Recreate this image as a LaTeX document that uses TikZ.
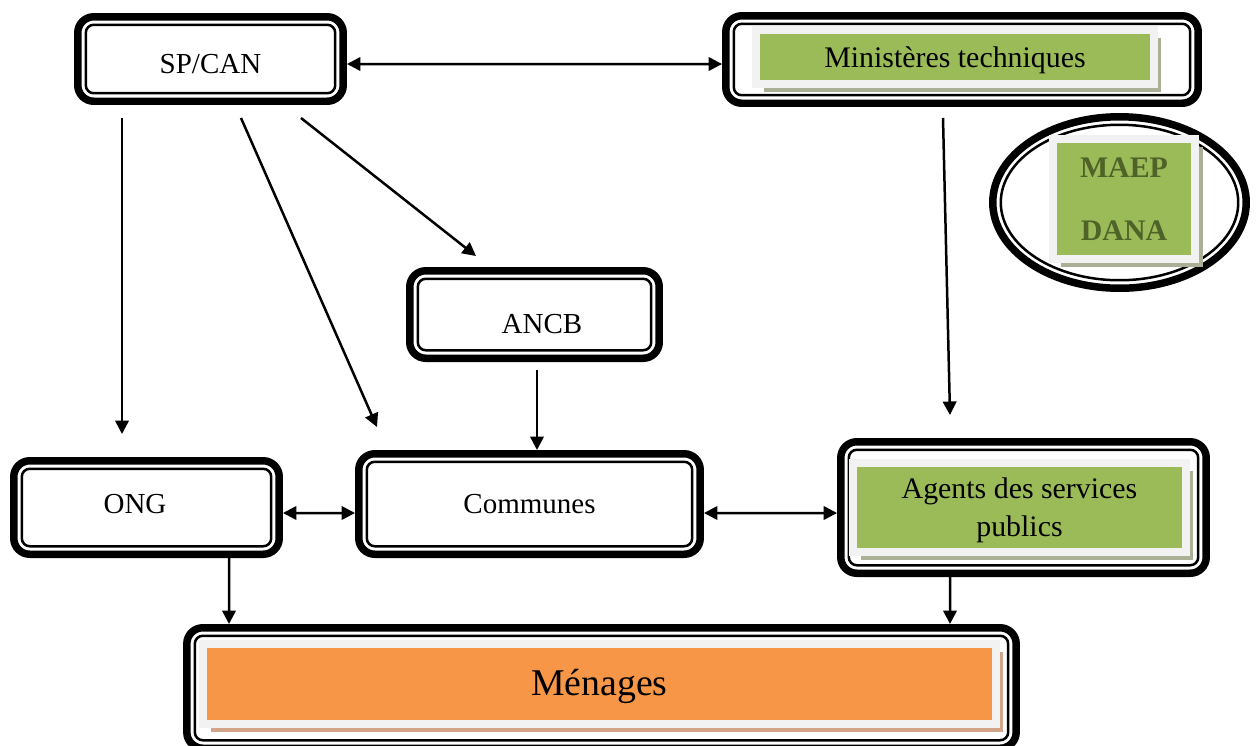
\documentclass[tikz,border=0pt]{standalone}
\usepackage{fontspec}
\setmainfont{Liberation Serif}
\usetikzlibrary{arrows.meta}
\usetikzlibrary{calc}
\usetikzlibrary{shapes.geometric}
\usetikzlibrary{shadows}

\definecolor{leafgreen}{HTML}{9BBB59}
\definecolor{leafshadow}{HTML}{A9B096}
\definecolor{panelgrey}{HTML}{F2F2F2}
\definecolor{menorange}{HTML}{F79646}
\definecolor{orangeshadow}{HTML}{D3A487}
\definecolor{maeptext}{HTML}{4F6228}

\tikzset{
  frame/.style={draw, line width=0.15cm, rounded corners=0.32cm, inner sep=0pt},
  thinframe/.style={draw, line width=0.05cm, rounded corners=0.16cm},
  panel/.style n args={2}{draw=panelgrey, line width=0.16cm, fill=#1, align=center, inner sep=0pt,
    text depth=0pt, drop shadow={shadow xshift=0.15cm, shadow yshift=-0.16cm, fill=#2, opacity=1}},
}

\begin{document}
\begin{tikzpicture}[x=0.02cm, y=-0.02cm, >={Triangle[length=0.27cm,width=0.27cm]},
    font=\fontsize{16.5}{20}\selectfont]
  \useasboundingbox (0,0) rectangle (1257,745);
  \clip (0,0) rectangle (1257,745);

  % frames
  \node[frame, minimum width=5.31cm, minimum height=1.69cm,
    label={[yshift=-0.1cm]center:SP/CAN}] (spcan) at (210.5,59) {};
  \node[frame, minimum width=9.45cm, minimum height=1.75cm] (mt) at (962,59.5) {};
  \node[frame, minimum width=4.99cm, minimum height=1.75cm,
    label={[xshift=0.15cm, yshift=-0.19cm]center:ANCB}] (ancb) at (534.5,314.5) {};
  \node[frame, minimum width=5.31cm, minimum height=1.87cm,
    label={[xshift=-0.23cm, yshift=0.07cm]center:ONG}] (ong) at (146.5,507.5) {};
  \node[frame, minimum width=6.83cm, minimum height=2.01cm] (com) at (529.5,504) {Communes};
  \node[frame, minimum width=7.31cm, minimum height=2.63cm] (asp) at (1023.5,507.5) {};
  \node[frame, minimum width=16.59cm, minimum height=2.41cm] (men) at (601.5,688) {};
  \node[draw, ellipse, line width=0.15cm, minimum width=5.07cm, minimum height=3.43cm] (maep) at (1119.5,202.5) {};

  \foreach \n in {spcan,mt,ancb,ong,com,asp,men}
    \draw[thinframe] ([shift={(11.75,11.75)}]\n.north west) rectangle ([shift={(-11.75,-11.75)}]\n.south east);
  \draw[line width=0.05cm] (maep.center) ellipse [x radius=2.375cm, y radius=1.555cm];

  % coloured panels
  \node[panel={leafgreen}{leafshadow}, minimum width=7.96cm, minimum height=1.08cm,
    font=\fontsize{17}{20}\selectfont] (mtp) at (955,57) {Ministères techniques};
  \node[panel={leafgreen}{leafshadow}, minimum width=6.66cm, minimum height=1.78cm,
    font=\fontsize{17}{21.5}\selectfont] (aspp) at (1019.5,507.5) {Agents des services\\publics};
  \node[panel={leafgreen}{leafshadow}, minimum width=2.84cm, minimum height=2.4cm,
    font=\fontsize{17}{36}\selectfont\bfseries, text=maeptext] (maepp) at (1124,199) {MAEP\\DANA};
  \node[panel={menorange}{orangeshadow}, minimum width=15.86cm, minimum height=1.6cm,
    text depth=0.22em, font=\fontsize{21.5}{25}\selectfont] (menp) at (599.5,684) {Ménages};

  % arrows
  \path[<->, line width=0.05cm]
    ($(spcan.east)+(0,5)$) edge ($(mt.west)+(0,4.5)$)
    ($(ong.east)+(0,5.5)$) edge ($(com.west)+(0,9)$)
    ($(com.east)+(0,9)$) edge ($(asp.west)+(0,5.5)$);
  \path[->, line width=0.05cm]
    ($(spcan.south)+(-88.5,13)$) edge ($(ong.north)+(-24.5,-23)$)
    ($(spcan.south)+(30.5,13)$) edge ($(com.north)+(-152.5,-23)$)
    ($(spcan.south)+(90.5,13)$) edge ($(ancb.north)+(-58.5,-11)$)
    ($(ancb.south)+(2.5,8)$) edge ($(com.north)+(7.5,0)$)
    ($(mt.south)+(-19,11)$) edge ($(asp.north)+(-73.5,-23)$)
    ($(ong.south)+(82.5,0)$) edge ($(men.north)+(-372.5,0)$)
    ($(asp.south)+(-73.5,0)$) edge ($(men.north)+(348.5,0)$);
\end{tikzpicture}
\end{document}
